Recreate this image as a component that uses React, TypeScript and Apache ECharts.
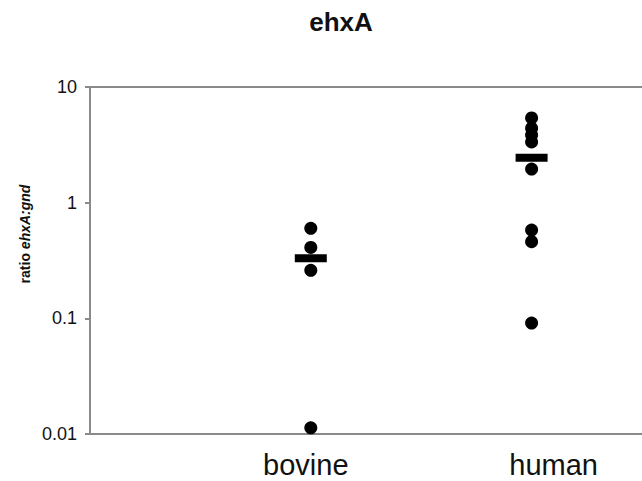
import React, { useEffect, useRef } from "react";
import * as echarts from "echarts";

const categories = ["bovine", "human"];
const bovineValues = [0.6, 0.41, 0.26, 0.0113];
const humanValues = [5.4, 4.4, 3.85, 3.35, 1.95, 0.58, 0.46, 0.091];
const meanValues = [0.33, 2.45];
const yTicks = [0.01, 0.1, 1, 10];

const FONT = "'Liberation Sans', Arial, sans-serif";
const AXIS_GREY = "#8a8a8a";

export default function App() {
  const ref = useRef<HTMLDivElement>(null);
  useEffect(() => {
    if (!ref.current) return;
    const chart = echarts.init(ref.current, undefined, { renderer: "svg" });
    const dots: number[][] = [];
    bovineValues.forEach((v) => dots.push([1, v]));
    humanValues.forEach((v) => dots.push([2, v]));
    const means = meanValues.map((v, i) => [i + 1, v]);
    chart.setOption({
      animation: false,
      backgroundColor: "#ffffff",
      grid: {
        left: 90,
        top: 87,
        width: 560,
        height: 347,
        show: false,
      },
      xAxis: [
        {
          type: "value",
          min: 0,
          max: 2.5,
          interval: 1,
          position: "bottom",
          axisLine: { show: true, onZero: false, lineStyle: { color: AXIS_GREY, width: 2 } },
          axisTick: { show: false },
          splitLine: { show: false },
          axisLabel: {
            margin: 16,
            showMaxLabel: false,
            formatter: (v: number) => {
              if (v === 1) return "{b|" + categories[0] + "}";
              if (v === 2) return "{h|" + categories[1] + "}";
              return "";
            },
            rich: {
              b: { fontSize: 29, fontFamily: FONT, color: "#111", padding: [0, 10, 0, 0] },
              h: { fontSize: 29, fontFamily: FONT, color: "#111", padding: [0, 0, 0, 44] },
            },
          },
        },
        {
          type: "value",
          min: 0,
          max: 2.5,
          position: "top",
          axisLine: { show: true, onZero: false, lineStyle: { color: AXIS_GREY, width: 2 } },
          axisTick: { show: false },
          axisLabel: { show: false },
          splitLine: { show: false },
        },
      ],
      yAxis: {
        type: "log",
        logBase: 10,
        min: yTicks[0],
        max: yTicks[yTicks.length - 1],
        axisLine: { show: true, lineStyle: { color: AXIS_GREY, width: 2 } },
        axisTick: { show: true, inside: false, length: 5, lineStyle: { color: AXIS_GREY, width: 2 } },
        splitLine: { show: false },
        minorTick: { show: false },
        axisLabel: {
          margin: 13,
          fontSize: 18,
          fontFamily: FONT,
          color: "#111",
          formatter: (v: number) => {
            const t = yTicks.find((x) => Math.abs(Math.log10(x) - Math.log10(v)) < 1e-6);
            return t !== undefined ? String(t) : "";
          },
        },
      },
      graphic: [
        {
          type: "text",
          x: 341,
          y: 22,
          style: {
            text: "ehxA",
            fontSize: 26,
            fontWeight: "bold",
            fontFamily: FONT,
            fill: "#111",
            textAlign: "center",
            textVerticalAlign: "middle",
          },
        },
        {
          type: "text",
          x: 25,
          y: 234,
          rotation: Math.PI / 2,
          style: {
            text: "{n|ratio }{i|ehxA:gnd}",
            textAlign: "center",
            textVerticalAlign: "middle",
            rich: {
              n: { fontSize: 14, fontWeight: "bold", fontFamily: FONT, fill: "#111" },
              i: { fontSize: 14, fontWeight: "bold", fontStyle: "italic", fontFamily: FONT, fill: "#111" },
            },
          },
        },
      ],
      series: [
        {
          type: "scatter",
          data: dots,
          symbol: "circle",
          symbolSize: 13,
          itemStyle: { color: "#000", opacity: 1 },
          z: 3,
        },
        {
          type: "scatter",
          data: means,
          symbol: "rect",
          symbolSize: [32, 8],
          itemStyle: { color: "#000", opacity: 1 },
          z: 4,
        },
      ],
    });
    return () => chart.dispose();
  }, []);
  return (
    <div
      ref={ref}
      style={{ position: "fixed", left: 0, top: 0, width: 642, height: 481, background: "#fff" }}
    />
  );
}
